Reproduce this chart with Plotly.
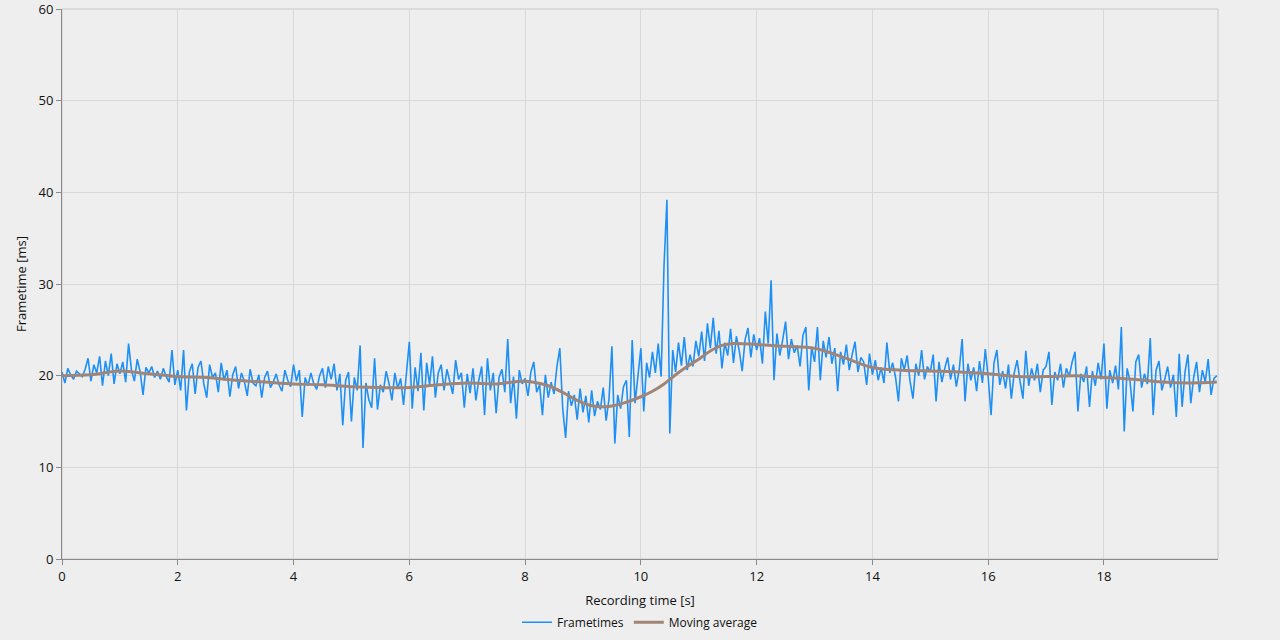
import numpy as np
import plotly.graph_objects as go

# Frametimes [ms], one value every 0.05 s (20 per second)
frametimes = [
    # 0 s
    20.4, 19.2, 20.8, 20.1, 19.6, 20.5, 20.2, 19.9, 20.7, 21.9, 19.4, 21.2, 20.3, 22.1, 18.9, 21.6, 20.0, 22.4, 19.1, 21.3,
    # 1 s
    20.2, 21.5, 19.3, 23.5, 20.6, 19.4, 21.8, 20.4, 17.9, 20.9, 20.3, 21.0, 19.8, 20.5, 19.6, 20.8, 19.9, 19.3, 22.8, 19.0,
    # 2 s
    20.6, 18.4, 22.8, 16.2, 20.4, 21.3, 18.0, 20.9, 21.6, 19.1, 17.6, 21.2, 19.8, 20.3, 18.2, 21.4, 19.5, 20.6, 17.7, 20.1,
    # 3 s
    21.0, 18.6, 20.3, 19.4, 17.8, 20.7, 19.2, 18.9, 20.1, 17.6, 19.8, 20.5, 18.7, 19.3, 20.2, 19.0, 18.3, 20.6, 19.5, 18.8,
    # 4 s
    21.2, 19.4, 20.6, 15.5, 19.8, 18.9, 20.3, 19.1, 18.5, 20.0, 20.8, 18.7, 21.0, 19.6, 21.3, 18.4, 20.2, 14.6, 19.5, 20.4,
    # 5 s
    15.0, 19.8, 18.4, 23.3, 12.1, 19.2, 17.4, 16.5, 21.9, 16.3, 19.0, 18.2, 20.5, 19.1, 17.3, 20.3, 18.6, 19.7, 16.8, 20.1,
    # 6 s
    23.7, 16.4, 20.9, 18.3, 22.5, 16.2, 21.4, 19.0, 22.1, 17.6, 20.3, 21.2, 18.4, 20.7, 19.4, 18.0, 21.7, 19.6, 20.3, 16.5,
    # 7 s
    20.2, 18.1, 20.8, 17.3, 19.5, 21.0, 15.7, 21.9, 18.4, 20.3, 15.9, 19.8, 20.7, 18.2, 24.0, 17.0, 19.9, 15.3, 20.6, 19.1,
    # 8 s
    19.7, 17.8, 20.4, 21.5, 18.2, 19.0, 15.7, 20.1, 17.6, 19.3, 18.0, 21.0, 23.0, 16.4, 13.2, 18.3, 16.7, 17.9, 15.2, 18.6,
    # 9 s
    16.0, 17.8, 14.9, 18.4, 15.6, 17.2, 16.3, 18.7, 15.1, 17.5, 23.2, 12.6, 17.9, 16.4, 18.8, 19.5, 13.3, 23.9, 17.0, 19.8,
    # 10 s
    23.0, 16.1, 21.4, 19.8, 22.6, 20.3, 23.5, 19.9, 32.0, 39.2, 13.7, 22.8, 20.4, 23.6, 21.1, 24.2, 20.6, 22.3, 21.0, 23.8,
    # 11 s
    22.1, 24.8, 21.6, 25.7, 23.0, 26.3, 22.4, 24.9, 20.8, 23.6, 22.2, 25.1, 21.4, 24.3, 22.7, 20.5, 23.9, 25.2, 22.0, 24.5,
    # 12 s
    22.8, 24.1, 21.3, 27.0, 23.5, 30.4, 19.5, 24.6, 22.2, 23.9, 25.9, 21.8, 24.0, 22.5, 23.3, 21.0, 24.4, 25.3, 18.4, 23.1,
    # 13 s
    21.5, 25.3, 19.5, 23.8, 22.0, 24.2, 21.3, 23.0, 18.3, 22.6, 21.2, 23.4, 20.6, 22.3, 23.7, 20.4, 22.0, 21.5, 19.0, 22.4,
    # 14 s
    20.1, 21.7, 19.5, 20.9, 19.2, 23.6, 20.3, 21.4, 19.8, 17.2, 21.9, 20.6, 22.2, 19.4, 17.5, 21.3, 20.0, 22.8, 19.6, 21.0,
    # 15 s
    20.4, 22.3, 17.2, 21.5, 19.3, 20.8, 22.0, 19.6, 21.2, 18.8, 20.7, 24.0, 17.2, 21.3, 19.5, 20.9, 18.3, 21.6, 19.2, 22.9,
    # 16 s
    19.8, 15.7, 21.4, 22.8, 19.0, 20.5, 18.6, 21.2, 17.5, 20.3, 21.7, 19.4, 17.5, 22.7, 18.9, 20.8, 19.5, 21.3, 18.2, 20.6,
    # 17 s
    21.0, 22.6, 16.8, 20.4, 19.5, 21.3, 18.7, 20.8, 19.9, 21.5, 22.6, 16.1, 20.2, 19.3, 21.0, 16.6, 20.5, 18.9, 21.4, 19.6,
    # 18 s
    23.5, 16.4, 20.6, 19.2, 21.1, 18.5, 25.3, 13.9, 20.8, 19.4, 16.1, 21.5, 22.3, 18.7, 20.2, 19.1, 24.1, 15.7, 20.6, 21.6,
    # 19 s
    18.4, 19.6, 21.0, 18.7, 20.1, 15.5, 22.4, 16.6, 20.4, 22.3, 17.0, 19.8, 21.5, 18.2, 20.6, 19.3, 21.8, 17.9, 19.7, 20.0,
]
sample_step_s = 0.05
frame_times_s = np.arange(len(frametimes)) * sample_step_s

# Moving average [ms]
ma_times = [0, 0.5, 1.0, 1.5, 2.0, 2.5, 3.0, 3.5, 4.0, 4.5, 5.0, 5.5, 6.0, 6.5, 7.0, 7.5, 8.0,
            8.4, 8.7, 8.9, 9.1, 9.3, 9.5, 9.7, 10.0, 10.2, 10.4, 10.6, 10.8, 11.0, 11.2, 11.4, 11.6,
            12.0, 12.5, 13.0, 13.5, 14.0, 14.5, 15.0, 15.5, 16.0, 16.5, 17.0, 17.5, 18.0, 18.5,
            19.0, 19.5, 19.95]
ma_values = [20.0, 20.1, 20.5, 20.2, 19.9, 19.8, 19.5, 19.3, 19.1, 19.0, 18.8, 18.7, 18.7, 19.0, 19.2, 19.1, 19.4,
             18.9, 18.0, 17.3, 16.8, 16.6, 16.7, 17.0, 17.7, 18.3, 19.1, 20.1, 21.0, 21.8, 22.7, 23.3, 23.5,
             23.4, 23.2, 23.0, 22.0, 20.9, 20.6, 20.5, 20.4, 20.2, 19.9, 19.9, 20.0, 19.8, 19.6,
             19.3, 19.2, 19.3]

x_ticks = [0, 2, 4, 6, 8, 10, 12, 14, 16, 18]
y_ticks = [0, 10, 20, 30, 40, 50, 60]

BG = "#EEEEEE"
FONT = "Open Sans"

fig = go.Figure()
fig.add_trace(go.Scatter(
    x=frame_times_s, y=frametimes, mode="lines", name="Frametimes",
    line=dict(color="#1E90F5", width=1.6),
))
fig.add_trace(go.Scatter(
    x=ma_times, y=ma_values, mode="lines", name="Moving average",
    line=dict(color="#A08577", width=3, shape="spline"),
))

fig.update_layout(
    width=1280, height=640,
    paper_bgcolor=BG, plot_bgcolor=BG,
    margin=dict(l=62, r=62, t=9, b=81, autoexpand=False),
    font=dict(family=FONT, size=12, color="#111111"),
    showlegend=True,
    legend=dict(orientation="h", x=0.5, xanchor="center", y=-0.115, yanchor="middle",
                font=dict(size=12), bgcolor="rgba(0,0,0,0)", itemwidth=30),
    shapes=[dict(type="rect", xref="paper", yref="paper", x0=0, x1=1, y0=0, y1=1,
                 line=dict(color="#C8C8C8", width=1), layer="below")],
)
fig.update_xaxes(
    range=[0, 19.97], tickvals=x_ticks, ticktext=[str(v) for v in x_ticks],
    showgrid=True, gridcolor="#D8D8D8", gridwidth=1, zeroline=False,
    showline=True, linecolor="#8A8A8A", linewidth=1, automargin=False,
    ticks="outside", ticklen=5, tickcolor="#8A8A8A", ticklabeloverflow="allow",
    title=dict(text="Recording time [s]", font=dict(size=13), standoff=12),
    tickfont=dict(size=13),
)
fig.update_yaxes(
    range=[0, 60], tickvals=y_ticks, ticktext=[str(v) for v in y_ticks],
    showgrid=True, gridcolor="#D8D8D8", gridwidth=1, zeroline=False,
    showline=True, linecolor="#8A8A8A", linewidth=1, automargin=False,
    ticks="outside", ticklen=5, tickcolor="#8A8A8A", ticklabeloverflow="allow",
    title=dict(text="Frametime [ms]", font=dict(size=13), standoff=8),
    tickfont=dict(size=13),
)

fig.write_html("out.html")
